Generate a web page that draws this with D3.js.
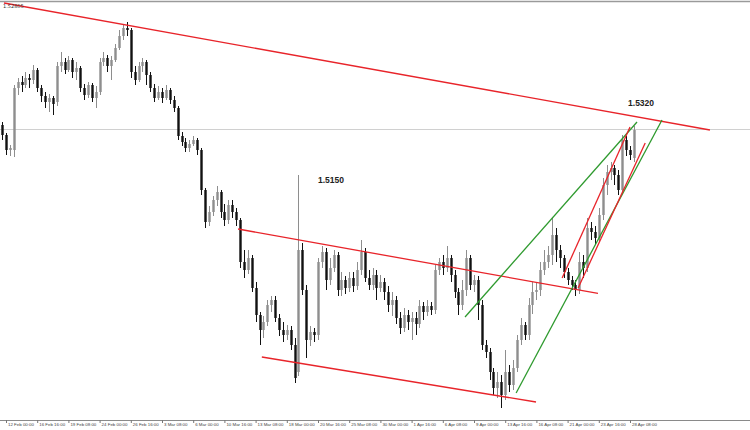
<!DOCTYPE html>
<html><head><meta charset="utf-8">
<script src="https://cdn.jsdelivr.net/npm/d3@7"></script>
<style>html,body{margin:0;padding:0;background:#fff;}svg{display:block;}</style>
</head><body>
<svg id="c" width="750" height="430"></svg>
<script>
// GBPUSD-style candles (one candle per 8h), prices
const open = [
1.52905,1.52655,1.52280,1.52280,1.53830,1.53980,1.53905,1.54080,1.54030,1.54280,
1.53830,1.53630,1.53480,1.53580,1.53480,1.54380,1.54480,1.54280,1.54530,1.54230,
1.54330,1.53830,1.53655,1.53905,1.53580,1.53730,1.54480,1.54580,1.54380,1.54530,
1.54830,1.55130,1.55330,1.55280,1.54230,1.54030,1.54380,1.54480,1.54155,1.53830,
1.53580,1.53730,1.53580,1.53780,1.53530,1.53330,1.52630,1.52480,1.52330,1.52430,
1.52530,1.52280,1.51280,1.50480,1.50730,1.51030,1.51230,1.50730,1.50530,1.50905,
1.50730,1.50530,1.49480,1.49280,1.49580,1.48830,1.48155,1.47780,1.47980,1.48405,
1.48530,1.48080,1.47780,1.47655,1.47780,1.47405,1.46730,1.49780,1.48780,1.47530,
1.47730,1.47655,1.49480,1.49730,1.49030,1.49330,1.49655,1.48780,1.49030,1.48830,
1.49080,1.48880,1.49280,1.49730,1.49080,1.48905,1.49155,1.48830,1.48980,1.48730,
1.48405,1.48530,1.48080,1.47830,1.48155,1.47980,1.48080,1.47930,1.48380,1.48230,
1.48380,1.48280,1.49280,1.49480,1.49330,1.49580,1.49155,1.48730,1.48405,1.48780,
1.49580,1.48905,1.49030,1.48405,1.47405,1.47230,1.46730,1.46330,1.46480,1.46155,
1.46730,1.46405,1.46830,1.47530,1.47905,1.47655,1.48405,1.48730,1.48780,1.49280,
1.49480,1.49655,1.50155,1.49780,1.49580,1.49230,1.49030,1.48905,1.48780,1.49480,
1.49330,1.50330,1.50230,1.50080,1.50655,1.51405,1.51730,1.51830,1.51655,1.51280,
1.52530,1.52280,1.52080];
const high = [
1.52980,1.52705,1.52405,1.53905,1.54080,1.54130,1.54230,1.54180,1.54405,1.54330,
1.53905,1.53730,1.53680,1.53630,1.54480,1.54730,1.54580,1.54630,1.54580,1.54480,
1.54380,1.53930,1.53980,1.53955,1.53880,1.54580,1.54730,1.54655,1.54630,1.54930,
1.55280,1.55430,1.55480,1.55330,1.54380,1.54480,1.54580,1.54530,1.54230,1.53930,
1.53880,1.53830,1.53905,1.53830,1.53630,1.53380,1.52730,1.52580,1.52530,1.52630,
1.52580,1.52330,1.51330,1.50880,1.51130,1.51380,1.51280,1.50930,1.51030,1.51030,
1.50830,1.50580,1.49780,1.49780,1.49655,1.48980,1.48230,1.48130,1.48530,1.48630,
1.48630,1.48180,1.47980,1.47905,1.47880,1.47580,1.51655,1.49955,1.48905,1.47880,
1.47830,1.49580,1.49880,1.49830,1.49580,1.49780,1.49730,1.49230,1.49130,1.49230,
1.49230,1.49480,1.50030,1.49830,1.49280,1.49330,1.49280,1.49155,1.49080,1.48880,
1.48730,1.48630,1.48230,1.48330,1.48280,1.48230,1.48230,1.48530,1.48480,1.48530,
1.48480,1.49405,1.49580,1.49655,1.49880,1.49655,1.49280,1.48830,1.49030,1.49780,
1.49655,1.49155,1.49130,1.48530,1.47530,1.47330,1.46830,1.46730,1.46655,1.47280,
1.46905,1.47030,1.47655,1.48080,1.47980,1.48580,1.48980,1.48980,1.49480,1.49780,
1.49880,1.50580,1.50330,1.49905,1.49655,1.49330,1.49130,1.49030,1.49730,1.49655,
1.50580,1.50480,1.50380,1.50830,1.51580,1.51905,1.51980,1.51905,1.51780,1.52655,
1.52630,1.52380,1.52880];
const low = [
1.52530,1.52155,1.52130,1.52105,1.53655,1.53730,1.53830,1.53830,1.53930,1.53730,
1.53480,1.53330,1.53230,1.53155,1.53380,1.54230,1.54180,1.54230,1.54080,1.54030,
1.53730,1.53530,1.53580,1.53480,1.53330,1.53655,1.54380,1.54230,1.54030,1.54480,
1.54780,1.55030,1.55130,1.54080,1.53905,1.53980,1.54230,1.53905,1.53730,1.53480,
1.53530,1.53455,1.53530,1.53430,1.53230,1.52530,1.52380,1.52230,1.52230,1.52380,
1.52155,1.51155,1.50330,1.50380,1.50630,1.50880,1.50580,1.50380,1.50430,1.50580,
1.50380,1.49330,1.49080,1.49180,1.48730,1.47980,1.47405,1.47580,1.47880,1.48230,
1.47980,1.47630,1.47480,1.47530,1.47280,1.46455,1.46630,1.48655,1.47080,1.47380,
1.47480,1.47530,1.49330,1.48780,1.48905,1.49230,1.48630,1.48630,1.48680,1.48730,
1.48730,1.48780,1.49155,1.48980,1.48780,1.48780,1.48530,1.48730,1.48530,1.48230,
1.48130,1.47930,1.47680,1.47730,1.47780,1.47530,1.47655,1.47830,1.48030,1.48130,
1.48155,1.48180,1.49155,1.49155,1.49230,1.48980,1.48580,1.48155,1.48280,1.48630,
1.48780,1.48730,1.48030,1.47280,1.47080,1.46530,1.46155,1.46080,1.45830,1.46030,
1.46230,1.46280,1.46730,1.47405,1.47530,1.47530,1.48180,1.48530,1.48630,1.49155,
1.49330,1.49405,1.49480,1.49330,1.49080,1.48905,1.48780,1.48630,1.48680,1.49080,
1.49230,1.50030,1.49905,1.49980,1.50530,1.51155,1.51530,1.51405,1.51155,1.51180,
1.52130,1.52030,1.51980];
const close = [
1.52655,1.52280,1.52330,1.53830,1.53980,1.53905,1.54080,1.54030,1.54280,1.53830,
1.53630,1.53480,1.53580,1.53430,1.54380,1.54480,1.54280,1.54530,1.54230,1.54330,
1.53830,1.53655,1.53905,1.53580,1.53730,1.54480,1.54580,1.54380,1.54530,1.54830,
1.55130,1.55330,1.55280,1.54230,1.54030,1.54380,1.54480,1.54155,1.53830,1.53580,
1.53730,1.53580,1.53780,1.53530,1.53330,1.52630,1.52480,1.52330,1.52430,1.52530,
1.52280,1.51280,1.50480,1.50730,1.51030,1.51230,1.50730,1.50530,1.50905,1.50730,
1.50530,1.49480,1.49280,1.49580,1.48830,1.48155,1.47780,1.47980,1.48405,1.48530,
1.48080,1.47780,1.47655,1.47780,1.47405,1.46580,1.49780,1.48780,1.47530,1.47730,
1.47655,1.49480,1.49730,1.49030,1.49330,1.49655,1.48780,1.49030,1.48830,1.49080,
1.48880,1.49280,1.49730,1.49080,1.48905,1.49155,1.48830,1.48980,1.48730,1.48405,
1.48530,1.48080,1.47830,1.48155,1.47980,1.48080,1.47930,1.48380,1.48230,1.48380,
1.48280,1.49280,1.49480,1.49330,1.49580,1.49155,1.48730,1.48405,1.48780,1.49580,
1.48905,1.49030,1.48405,1.47405,1.47230,1.46730,1.46330,1.46480,1.46155,1.46730,
1.46405,1.46830,1.47530,1.47905,1.47655,1.48405,1.48730,1.48780,1.49280,1.49480,
1.49655,1.50155,1.49780,1.49580,1.49230,1.49030,1.48905,1.48780,1.49480,1.49330,
1.50330,1.50230,1.50080,1.50655,1.51405,1.51730,1.51830,1.51655,1.51280,1.52530,
1.52280,1.52155,1.52780];

const tickLabels = ["12 Feb 00:00","16 Feb 16:00","19 Feb 08:00","24 Feb 00:00","26 Feb 16:00",
  "3 Mar 08:00","6 Mar 00:00","10 Mar 16:00","13 Mar 08:00","18 Mar 00:00","20 Mar 16:00",
  "25 Mar 08:00","30 Mar 00:00","1 Apr 16:00","6 Apr 08:00","9 Apr 00:00","13 Apr 16:00",
  "16 Apr 08:00","21 Apr 00:00","23 Apr 16:00","28 Apr 08:00"];
const tickIndex = [1,9,17,25,33,41,49,57,65,73,81,89,97,105,113,121,129,137,145,153,161];

const bidPrice = 1.52805;
const bidLabel = "1.52805";
const notes = [{text:"1.5150", i:81, p:1.5145}, {text:"1.5320", i:160.5, p:1.5338}];

// trend lines: [index1, price1, index2, price2, colour]
const trendLines = [
  [0.49, 1.55955, 181.5, 1.52780, "red"],
  [60.5, 1.50305, 152.8, 1.48693, "red"],
  [66.6, 1.47105, 136.9, 1.45980, "red"],
  [118.7, 1.48105, 162.8, 1.52980, "green"],
  [131.8, 1.46205, 169.2, 1.53030, "green"],
  [143.6, 1.49080, 161.0, 1.52855, "red"],
  [147.7, 1.48830, 164.9, 1.52455, "red"]
];

const W = 750, H = 430, axisY = 420;
const svg = d3.select("#c");
const x = d3.scaleLinear().domain([0, 162]).range([2.1, 2.1 + 162*3.9]);
const y = d3.scaleLinear().domain([1.4553, 1.5603]).range([axisY, 0]);

// frame
svg.append("line").attr("x1",0).attr("x2",W).attr("y1",1.5).attr("y2",1.5)
  .attr("stroke","#9a9a9a").attr("stroke-width",1.5);
// bid line
svg.append("line").attr("x1",0).attr("x2",W).attr("y1",Math.round(y(bidPrice))+0.5).attr("y2",Math.round(y(bidPrice))+0.5)
  .attr("stroke","#d0d0d0").attr("stroke-width",1);

const data = open.map((o,i)=>({i, o, h:high[i], l:low[i], c:close[i]}));
const g = svg.append("g");
const col = d => d.c >= d.o ? "#8e8e8e" : "#111";
g.selectAll("line.w").data(data).join("line").attr("class","w")
  .attr("x1",d=>Math.round(x(d.i))+0.5).attr("x2",d=>Math.round(x(d.i))+0.5)
  .attr("y1",d=>y(d.h)).attr("y2",d=>y(d.l))
  .attr("stroke",col).attr("stroke-width",1);
g.selectAll("rect.b").data(data).join("rect").attr("class","b")
  .attr("x",d=>Math.round(x(d.i))-0.7).attr("width",2.4)
  .attr("y",d=>Math.min(y(d.o),y(d.c)))
  .attr("height",d=>Math.max(1,Math.abs(y(d.o)-y(d.c))))
  .attr("fill",col);

// trend lines
svg.append("g").selectAll("line").data(trendLines).join("line")
  .attr("x1",d=>x(d[0])).attr("y1",d=>y(d[1])).attr("x2",d=>x(d[2])).attr("y2",d=>y(d[3]))
  .attr("stroke",d=>d[4]==="red"?"#e8242a":"#2e9a2e").attr("stroke-width",1.3);

// annotations
svg.append("g").selectAll("text").data(notes).join("text")
  .attr("x",d=>x(d.i)).attr("y",d=>y(d.p))
  .attr("font-family","Liberation Sans, Arial, sans-serif").attr("font-weight","bold")
  .attr("font-size",8.5).attr("fill","#222").text(d=>d.text);
svg.append("text").attr("x",3).attr("y",7.5).attr("font-family","DejaVu Sans, sans-serif")
  .attr("font-size",5).attr("fill","#333").text(bidLabel);

// x axis
svg.append("line").attr("x1",0).attr("x2",W).attr("y1",axisY+0.5).attr("y2",axisY+0.5)
  .attr("stroke","#8a8a8a").attr("stroke-width",1);
const ax = svg.append("g").attr("transform",`translate(0,${axisY})`)
  .call(d3.axisBottom(x).tickValues(tickIndex).tickFormat((d,k)=>tickLabels[k]).tickSize(3));
ax.select(".domain").remove();
ax.selectAll(".tick line").attr("stroke","#777");
ax.selectAll(".tick text").attr("text-anchor","start").attr("x",1.5).attr("y",2.5).attr("dy","0.71em")
  .attr("font-family","Liberation Sans, Arial, sans-serif").attr("font-size",4.4).attr("fill","#444");
</script>
</body></html>
